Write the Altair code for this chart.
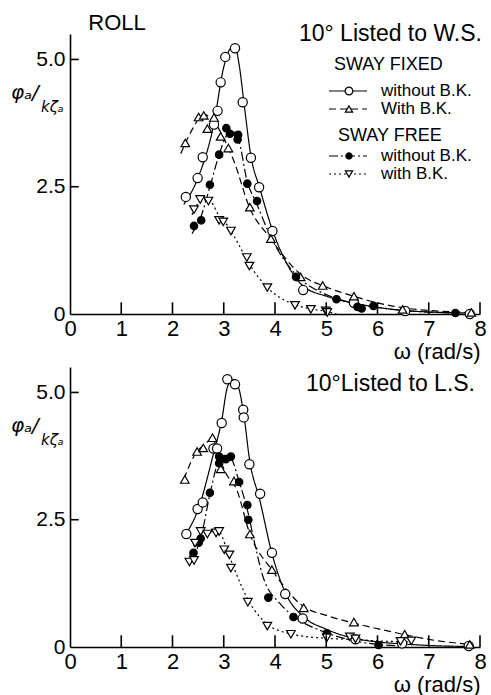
import altair as alt
import pandas as pd

# ---------------- 10° listed to W.S. ----------------
# measured points
ws_fixed_nobk_x = [2.26, 2.49, 2.59, 2.81, 2.88, 2.94, 3.03, 3.22, 3.37, 3.53, 3.69, 3.95, 4.55, 5.54, 6.54, 7.80]
ws_fixed_nobk_y = [2.30, 2.67, 3.08, 3.72, 3.99, 4.55, 5.05, 5.22, 4.16, 3.07, 2.49, 1.63, 0.47, 0.22, 0.06, 0.00]
ws_fixed_bk_x = [2.25, 2.51, 2.61, 2.68, 2.81, 2.94, 3.09, 3.51, 3.92, 4.50, 4.93, 5.54, 6.49, 7.83]
ws_fixed_bk_y = [3.36, 3.87, 3.90, 3.64, 3.86, 3.49, 3.26, 2.10, 1.48, 0.73, 0.56, 0.35, 0.09, 0.03]
ws_free_nobk_x = [2.42, 2.56, 2.73, 2.91, 3.05, 3.12, 3.28, 3.27, 3.46, 3.65, 4.41, 5.20, 5.61, 5.69, 5.92, 7.52]
ws_free_nobk_y = [1.73, 1.84, 2.54, 3.13, 3.65, 3.54, 3.52, 3.43, 2.56, 2.22, 0.73, 0.29, 0.14, 0.11, 0.16, 0.02]
ws_free_bk_x = [2.42, 2.54, 2.70, 2.91, 2.99, 3.14, 3.45, 3.50, 3.85, 4.39, 4.70, 4.99, 5.02]
ws_free_bk_y = [2.05, 2.25, 2.22, 1.84, 1.81, 1.63, 1.11, 0.94, 0.52, 0.17, 0.09, 0.06, 0.03]

# faired curves
ws_fixed_nobk_fit_x = [2.22, 2.50, 2.80, 3.00, 3.12, 3.22, 3.30, 3.40, 3.53, 3.70, 3.95, 4.20, 4.55, 5.00, 5.50, 6.00, 6.50, 7.00, 7.80]
ws_fixed_nobk_fit_y = [2.15, 2.68, 3.70, 4.85, 5.20, 5.25, 4.90, 4.10, 3.10, 2.48, 1.65, 1.05, 0.55, 0.35, 0.22, 0.13, 0.07, 0.04, 0.02]
ws_fixed_bk_fit_x = [2.16, 2.40, 2.60, 2.80, 3.00, 3.20, 3.50, 3.90, 4.50, 5.00, 5.50, 6.00, 6.50, 7.00, 7.80]
ws_fixed_bk_fit_y = [3.15, 3.65, 3.92, 3.80, 3.45, 3.00, 2.10, 1.50, 0.78, 0.53, 0.36, 0.22, 0.12, 0.07, 0.03]
ws_free_nobk_fit_x = [2.38, 2.55, 2.73, 2.90, 3.05, 3.15, 3.28, 3.46, 3.65, 3.90, 4.40, 5.00, 5.50, 6.00, 6.50, 7.50]
ws_free_nobk_fit_y = [1.58, 1.90, 2.50, 3.10, 3.50, 3.60, 3.45, 2.60, 2.15, 1.55, 0.78, 0.38, 0.22, 0.13, 0.07, 0.02]
ws_free_bk_fit_x = [2.38, 2.55, 2.70, 2.90, 3.10, 3.30, 3.50, 3.85, 4.40, 4.70, 5.00, 5.20]
ws_free_bk_fit_y = [1.95, 2.22, 2.25, 1.95, 1.70, 1.35, 0.98, 0.52, 0.18, 0.10, 0.05, 0.00]

# ---------------- 10° listed to L.S. ----------------
ls_fixed_nobk_x = [2.27, 2.49, 2.59, 2.80, 2.87, 2.96, 3.07, 3.22, 3.38, 3.39, 3.50, 3.71, 3.94, 4.20, 4.54, 5.57, 6.48, 7.78]
ls_fixed_nobk_y = [2.22, 2.71, 2.84, 3.90, 3.90, 4.40, 5.26, 5.16, 4.66, 4.51, 3.59, 3.01, 1.85, 1.04, 0.56, 0.15, 0.07, 0.02]
ls_fixed_bk_x = [2.24, 2.48, 2.60, 2.78, 2.94, 3.20, 3.51, 3.94, 4.56, 5.54, 6.53, 7.80]
ls_fixed_bk_y = [3.29, 3.84, 3.91, 4.11, 3.50, 3.26, 2.22, 1.52, 0.77, 0.49, 0.25, 0.05]
ls_free_nobk_x = [2.41, 2.51, 2.55, 2.73, 2.91, 2.91, 3.04, 3.14, 3.30, 3.46, 3.48, 3.87, 4.36, 5.01, 6.02]
ls_free_nobk_y = [1.85, 2.05, 2.13, 3.03, 3.74, 3.61, 3.69, 3.74, 3.24, 2.79, 2.50, 0.97, 0.59, 0.27, 0.04]
ls_free_bk_x = [2.33, 2.42, 2.44, 2.55, 2.68, 2.85, 2.91, 3.01, 3.11, 3.14, 3.47, 3.85, 4.31, 5.01, 5.46, 5.57, 6.45, 6.66]
ls_free_bk_y = [1.67, 1.70, 2.04, 2.27, 2.22, 2.24, 2.27, 1.91, 1.81, 1.55, 0.88, 0.41, 0.25, 0.18, 0.20, 0.16, 0.11, 0.12]

ls_fixed_nobk_fit_x = [2.25, 2.50, 2.80, 2.96, 3.07, 3.17, 3.27, 3.40, 3.50, 3.70, 3.95, 4.20, 4.55, 5.00, 5.50, 6.00, 6.50, 7.00, 7.80]
ls_fixed_nobk_fit_y = [2.20, 2.70, 3.80, 4.45, 5.10, 5.25, 5.15, 4.50, 3.70, 2.90, 1.80, 1.07, 0.60, 0.35, 0.18, 0.10, 0.06, 0.03, 0.01]
ls_fixed_bk_fit_x = [2.22, 2.45, 2.65, 2.78, 2.90, 3.05, 3.25, 3.50, 3.95, 4.55, 5.00, 5.50, 6.00, 6.50, 7.00, 7.80]
ls_fixed_bk_fit_y = [3.30, 3.80, 4.00, 4.10, 3.75, 3.40, 3.10, 2.25, 1.50, 0.80, 0.62, 0.48, 0.36, 0.25, 0.15, 0.05]
ls_free_nobk_fit_x = [2.37, 2.55, 2.73, 2.90, 3.05, 3.15, 3.30, 3.46, 3.60, 3.76, 4.10, 4.40, 5.00, 5.50, 6.00, 6.50]
ls_free_nobk_fit_y = [1.72, 2.13, 3.00, 3.65, 3.78, 3.70, 3.25, 2.70, 2.05, 1.40, 0.85, 0.58, 0.28, 0.13, 0.05, 0.02]
ls_free_bk_fit_x = [2.30, 2.45, 2.60, 2.90, 3.05, 3.20, 3.50, 3.85, 4.30, 5.00, 5.50, 6.00, 6.70]
ls_free_bk_fit_y = [1.70, 2.05, 2.25, 2.27, 1.95, 1.55, 0.88, 0.45, 0.26, 0.17, 0.15, 0.12, 0.10]

X_TICKS = [0, 1, 2, 3, 4, 5, 6, 7, 8]
Y_TICKS = [0, 2.5, 5.0]

SERIES = ["fixed_nobk", "fixed_bk", "free_nobk", "free_bk"]
SHAPE = {"fixed_nobk": "circle", "fixed_bk": "triangle-up", "free_nobk": "circle", "free_bk": "triangle-down"}
FILL = {"fixed_nobk": "white", "fixed_bk": "white", "free_nobk": "black", "free_bk": "white"}
SIZE = {"fixed_nobk": 85, "fixed_bk": 75, "free_nobk": 55, "free_bk": 75}
DASH = {"fixed_nobk": [1, 0], "fixed_bk": [7, 4], "free_nobk": [9, 3, 2, 3], "free_bk": [2, 3]}

LEGEND_TEXT = {"fixed_nobk": "without B.K.", "fixed_bk": "With B.K.",
               "free_nobk": "without B.K.", "free_bk": "with B.K."}

FONT = "Liberation Sans"
W, H = 410, 280

xscale = alt.Scale(domain=[0, 8], nice=False, zero=False)
yscale = alt.Scale(domain=[0, 5.5], nice=False, zero=False)

xaxis = alt.Axis(values=X_TICKS, ticks=False, grid=False, labelFlush=False,
                 labelFont=FONT, labelFontSize=22, labelColor="black", labelPadding=4,
                 domainColor="black", domainWidth=1.6,
                 title="ω (rad/s)", titleFont=FONT, titleFontSize=22, titleFontWeight="normal",
                 titleColor="black", titleAlign="right", titleX=410, titleY=37, titleBaseline="middle")
yaxis = alt.Axis(values=Y_TICKS, ticks=False, grid=False, labelFlush=False,
                 labelExpr="datum.value == 0 ? '0' : format(datum.value, '.1f')",
                 labelFont=FONT, labelFontSize=21, labelColor="black", labelPadding=5,
                 domainColor="black", domainWidth=1.6, title=None)


def X(field):
    return alt.X(field, type="quantitative", scale=xscale, axis=xaxis)


def Y(field):
    return alt.Y(field, type="quantitative", scale=yscale, axis=yaxis)


def one_row():
    return alt.Chart(pd.DataFrame({"k": [0]}))


def panel(points, curves, heading, with_legend):
    layers = []
    for s in SERIES:
        cx, cy = curves[s]
        layers.append(
            alt.Chart(pd.DataFrame({"w": cx, "r": cy}))
            .mark_line(color="black", strokeWidth=1.2, strokeDash=DASH[s], interpolate="monotone")
            .encode(x=X("w"), y=Y("r"))
        )
    for s in SERIES:
        px, py = points[s]
        layers.append(
            alt.Chart(pd.DataFrame({"w": px, "r": py}))
            .mark_point(shape=SHAPE[s], filled=True, fill=FILL[s], stroke="black",
                        strokeWidth=1.2, size=SIZE[s], opacity=1)
            .encode(x=X("w"), y=Y("r"))
        )
    # inward tick marks
    layers.append(
        alt.Chart(pd.DataFrame({"w": X_TICKS[1:]}))
        .mark_rule(color="black", strokeWidth=1.6)
        .encode(x=X("w"), y=alt.datum(0), y2=alt.datum(0.23))
    )
    layers.append(
        alt.Chart(pd.DataFrame({"r": Y_TICKS[1:]}))
        .mark_rule(color="black", strokeWidth=1.6)
        .encode(y=Y("r"), x=alt.datum(0), x2=alt.datum(0.17))
    )
    # ordinate label  φa / kζa
    layers.append(one_row().mark_text(text="φₐ/", font="DejaVu Sans", fontSize=20, fontStyle="italic",
                                      align="left", baseline="middle", color="black")
                  .encode(x=alt.value(-59), y=alt.value(59)))
    layers.append(one_row().mark_text(text="kζₐ", font="DejaVu Sans", fontSize=15, fontStyle="italic",
                                      align="left", baseline="middle", color="black")
                  .encode(x=alt.value(-29), y=alt.value(73)))
    layers.append(one_row().mark_text(text=heading, font=FONT, fontSize=23, align="right",
                                      baseline="middle", color="black")
                  .encode(x=alt.value(heading_x[heading]), y=alt.value(heading_y[heading])))
    if with_legend:
        layers.append(one_row().mark_text(text="ROLL", font=FONT, fontSize=22, align="center",
                                          baseline="middle", color="black")
                      .encode(x=alt.value(47), y=alt.value(-11)))
        layers.append(one_row().mark_text(text="SWAY FIXED", font=FONT, fontSize=18, align="left",
                                          baseline="middle", color="black")
                      .encode(x=alt.value(264), y=alt.value(31)))
        layers.append(one_row().mark_text(text="SWAY FREE", font=FONT, fontSize=18, align="left",
                                          baseline="middle", color="black")
                      .encode(x=alt.value(268), y=alt.value(102)))
        row_y = [57, 75, 122, 140]
        for s, yy in zip(SERIES, row_y):
            layers.append(one_row().mark_rule(color="black", strokeWidth=1.2, strokeDash=DASH[s])
                          .encode(x=alt.value(259), x2=alt.value(297), y=alt.value(yy)))
            layers.append(one_row().mark_point(shape=SHAPE[s], filled=True, fill=FILL[s], stroke="black",
                                               strokeWidth=1.2, size=SIZE[s] * 0.7, opacity=1)
                          .encode(x=alt.value(279), y=alt.value(yy)))
            layers.append(one_row().mark_text(text=LEGEND_TEXT[s], font=FONT, fontSize=17, align="left",
                                              baseline="middle", color="black")
                          .encode(x=alt.value(311), y=alt.value(yy)))
    return alt.layer(*layers).properties(width=W, height=H)


heading_x = {"10° Listed to W.S.": 412, "10°Listed to L.S.": 405}
heading_y = {"10° Listed to W.S.": 0, "10°Listed to L.S.": 17}

ws_points = {"fixed_nobk": (ws_fixed_nobk_x, ws_fixed_nobk_y), "fixed_bk": (ws_fixed_bk_x, ws_fixed_bk_y),
             "free_nobk": (ws_free_nobk_x, ws_free_nobk_y), "free_bk": (ws_free_bk_x, ws_free_bk_y)}
ws_curves = {"fixed_nobk": (ws_fixed_nobk_fit_x, ws_fixed_nobk_fit_y), "fixed_bk": (ws_fixed_bk_fit_x, ws_fixed_bk_fit_y),
             "free_nobk": (ws_free_nobk_fit_x, ws_free_nobk_fit_y), "free_bk": (ws_free_bk_fit_x, ws_free_bk_fit_y)}
ls_points = {"fixed_nobk": (ls_fixed_nobk_x, ls_fixed_nobk_y), "fixed_bk": (ls_fixed_bk_x, ls_fixed_bk_y),
             "free_nobk": (ls_free_nobk_x, ls_free_nobk_y), "free_bk": (ls_free_bk_x, ls_free_bk_y)}
ls_curves = {"fixed_nobk": (ls_fixed_nobk_fit_x, ls_fixed_nobk_fit_y), "fixed_bk": (ls_fixed_bk_fit_x, ls_fixed_bk_fit_y),
             "free_nobk": (ls_free_nobk_fit_x, ls_free_nobk_fit_y), "free_bk": (ls_free_bk_fit_x, ls_free_bk_fit_y)}

top = panel(ws_points, ws_curves, "10° Listed to W.S.", True)
bottom = panel(ls_points, ls_curves, "10°Listed to L.S.", False)

chart = (
    alt.vconcat(top, bottom, spacing=53, bounds="flush")
    .properties(padding={"left": 11, "top": 12, "right": 3, "bottom": 1}, background="white")
    .configure_view(stroke=None)
)

chart.save("out.html", embed_options={"renderer": "svg", "actions": False})
